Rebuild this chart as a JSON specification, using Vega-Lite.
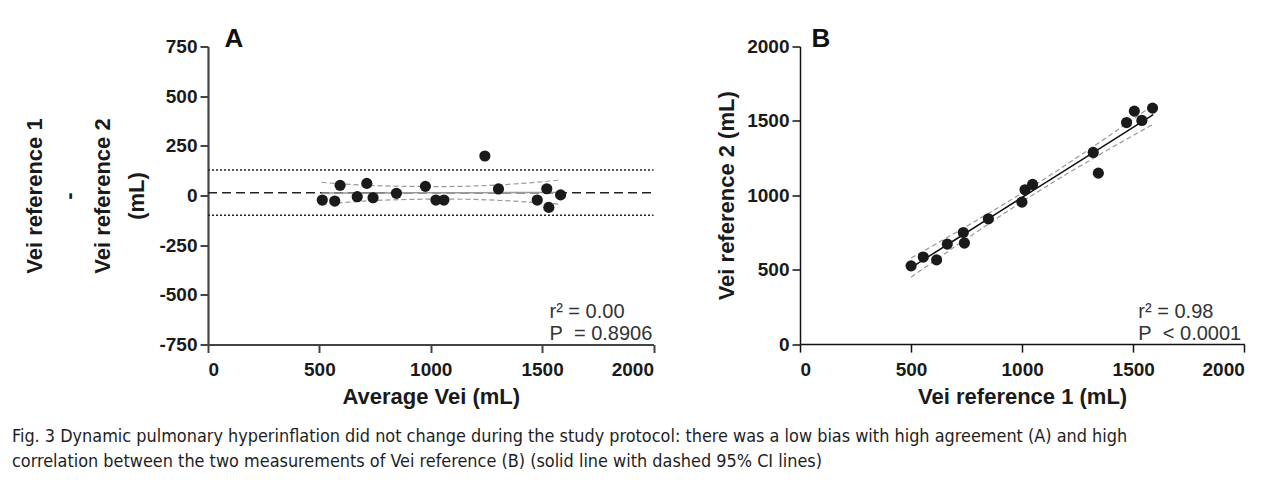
{
  "$schema": "https://vega.github.io/schema/vega-lite/v6.json",
  "background": "white",
  "padding": {"left": 11, "top": 25.5, "right": 5, "bottom": 5},
  "bounds": "flush",
  "spacing": 146,
  "datasets": {
    "one": [{}],
    "ba": [
      {"avg": 513, "diff": -23}, {"avg": 569, "diff": -28}, {"avg": 593, "diff": 51},
      {"avg": 670, "diff": -6}, {"avg": 713, "diff": 61}, {"avg": 741, "diff": -11},
      {"avg": 846, "diff": 11}, {"avg": 976, "diff": 46}, {"avg": 1023, "diff": -23},
      {"avg": 1059, "diff": -23}, {"avg": 1243, "diff": 199}, {"avg": 1304, "diff": 33},
      {"avg": 1478, "diff": -23}, {"avg": 1521, "diff": 34}, {"avg": 1530, "diff": -60},
      {"avg": 1583, "diff": 3}
    ],
    "baFit": [
      {"x": 510, "fit": 13, "lo": -46, "hi": 66},
      {"x": 700, "fit": 13, "lo": -28, "hi": 52},
      {"x": 900, "fit": 14, "lo": -20, "hi": 46},
      {"x": 1050, "fit": 14, "lo": -18, "hi": 45},
      {"x": 1200, "fit": 14, "lo": -20, "hi": 48},
      {"x": 1400, "fit": 15, "lo": -30, "hi": 60},
      {"x": 1585, "fit": 15, "lo": -44, "hi": 78}
    ],
    "corr": [
      {"v1": 500, "v2": 526}, {"v1": 555, "v2": 585}, {"v1": 615, "v2": 566},
      {"v1": 663, "v2": 672}, {"v1": 735, "v2": 750}, {"v1": 740, "v2": 679},
      {"v1": 848, "v2": 842}, {"v1": 999, "v2": 954}, {"v1": 1013, "v2": 1037},
      {"v1": 1047, "v2": 1073}, {"v1": 1320, "v2": 1288}, {"v1": 1343, "v2": 1149},
      {"v1": 1470, "v2": 1489}, {"v1": 1505, "v2": 1566}, {"v1": 1539, "v2": 1503},
      {"v1": 1587, "v2": 1586}
    ],
    "corrFit": [
      {"x": 500, "fit": 514, "lo": 450, "hi": 578},
      {"x": 700, "fit": 703, "lo": 658, "hi": 748},
      {"x": 900, "fit": 892, "lo": 860, "hi": 924},
      {"x": 1050, "fit": 1033, "lo": 1005, "hi": 1061},
      {"x": 1200, "fit": 1175, "lo": 1143, "hi": 1207},
      {"x": 1400, "fit": 1363, "lo": 1318, "hi": 1408},
      {"x": 1590, "fit": 1542, "lo": 1478, "hi": 1606}
    ]
  },
  "title": {
    "text": [
      "Fig. 3  Dynamic pulmonary hyperinflation did not change during the study protocol: there was a low bias with high agreement (A) and high",
      "correlation between the two measurements of Vei reference (B) (solid line with dashed 95% CI lines)"
    ],
    "orient": "bottom",
    "anchor": "start",
    "font": "DejaVu Sans Condensed, Liberation Sans Narrow, sans-serif",
    "fontSize": 17.9,
    "fontWeight": "normal",
    "color": "#1e1e1e",
    "lineHeight": 25,
    "offset": 20,
    "dx": -12
  },
  "hconcat": [
    {
      "width": 445.5,
      "height": 298,
      "title": {"text": "A", "anchor": "start", "frame": "group", "fontSize": 26, "fontWeight": "bold", "font": "Liberation Sans", "color": "#111111", "dx": 16.5, "baseline": "alphabetic", "offset": -35},
      "layer": [
        {
          "data": {"name": "one"},
          "mark": {"type": "rule", "strokeDash": [2, 2], "strokeWidth": 1.5, "color": "#222222"},
          "encoding": {
            "x": {"datum": 0, "type": "quantitative"},
            "x2": {"datum": 2000},
            "y": {"datum": 128, "type": "quantitative"}
          }
        },
        {
          "data": {"name": "one"},
          "mark": {"type": "rule", "strokeDash": [2, 2], "strokeWidth": 1.5, "color": "#222222"},
          "encoding": {
            "x": {"datum": 0, "type": "quantitative"},
            "x2": {"datum": 2000},
            "y": {"datum": -100, "type": "quantitative"}
          }
        },
        {
          "data": {"name": "one"},
          "mark": {"type": "rule", "strokeDash": [9, 5], "strokeWidth": 1.5, "color": "#222222"},
          "encoding": {
            "x": {"datum": 0, "type": "quantitative"},
            "x2": {"datum": 2000},
            "y": {"datum": 14, "type": "quantitative"}
          }
        },
        {
          "data": {"name": "baFit"},
          "mark": {"type": "line", "color": "#999999", "strokeWidth": 1.5},
          "encoding": {
            "x": {"field": "x", "type": "quantitative"},
            "y": {"field": "fit", "type": "quantitative"}
          }
        },
        {
          "data": {"name": "baFit"},
          "mark": {"type": "line", "color": "#999999", "strokeWidth": 1.2, "strokeDash": [5, 3], "interpolate": "monotone"},
          "encoding": {
            "x": {"field": "x", "type": "quantitative"},
            "y": {"field": "hi", "type": "quantitative"}
          }
        },
        {
          "data": {"name": "baFit"},
          "mark": {"type": "line", "color": "#999999", "strokeWidth": 1.2, "strokeDash": [5, 3], "interpolate": "monotone"},
          "encoding": {
            "x": {"field": "x", "type": "quantitative"},
            "y": {"field": "lo", "type": "quantitative"}
          }
        },
        {
          "data": {"name": "ba"},
          "mark": {"type": "circle", "size": 125, "opacity": 1, "color": "#1a1a1a"},
          "encoding": {
            "x": {"field": "avg", "type": "quantitative", "scale": {"domain": [0, 2000], "nice": false},
              "axis": {"title": "Average Vei (mL)", "values": [0, 500, 1000, 1500, 2000], "format": "d", "labelPadding": 8, "titlePadding": 7}},
            "y": {"field": "diff", "type": "quantitative", "scale": {"domain": [-750, 750], "nice": false},
              "axis": {"title": ["Vei reference 1", "-", "Vei reference 2", "(mL)"], "values": [-750, -500, -250, 0, 250, 500, 750], "labelExpr": "'' + datum.value", "titleLineHeight": 34, "titlePadding": 10}}
          }
        },
        {
          "data": {"name": "one"},
          "mark": {"type": "text", "align": "left", "baseline": "alphabetic", "font": "Liberation Sans", "fontSize": 20, "lineHeight": 22, "color": "#333333"},
          "encoding": {
            "x": {"datum": 1533, "type": "quantitative"},
            "y": {"datum": -616, "type": "quantitative"},
            "text": {"value": ["r² = 0.00", "P\u00a0 = 0.8906"]}
          }
        }
      ]
    },
    {
      "width": 444.3,
      "height": 297.6,
      "title": {"text": "B", "anchor": "start", "frame": "group", "fontSize": 26, "fontWeight": "bold", "font": "Liberation Sans", "color": "#111111", "dx": 11.5, "baseline": "alphabetic", "offset": -35},
      "layer": [
        {
          "data": {"name": "corrFit"},
          "mark": {"type": "line", "color": "#999999", "strokeWidth": 1.2, "strokeDash": [5, 3]},
          "encoding": {
            "x": {"field": "x", "type": "quantitative", "scale": {"domain": [0, 2000], "nice": false}},
            "y": {"field": "hi", "type": "quantitative", "scale": {"domain": [0, 2000], "nice": false}}
          }
        },
        {
          "data": {"name": "corrFit"},
          "mark": {"type": "line", "color": "#999999", "strokeWidth": 1.2, "strokeDash": [5, 3]},
          "encoding": {
            "x": {"field": "x", "type": "quantitative"},
            "y": {"field": "lo", "type": "quantitative"}
          }
        },
        {
          "data": {"name": "corrFit"},
          "mark": {"type": "line", "color": "#111111", "strokeWidth": 1.5},
          "encoding": {
            "x": {"field": "x", "type": "quantitative"},
            "y": {"field": "fit", "type": "quantitative"}
          }
        },
        {
          "data": {"name": "corr"},
          "mark": {"type": "circle", "size": 125, "opacity": 1, "color": "#1a1a1a"},
          "encoding": {
            "x": {"field": "v1", "type": "quantitative",
              "axis": {"title": "Vei reference 1 (mL)", "values": [0, 500, 1000, 1500, 2000], "format": "d", "labelPadding": 8, "titlePadding": 7, "domainWidth": 1.5, "tickWidth": 1.5, "domainColor": "#111111", "tickColor": "#111111"}},
            "y": {"field": "v2", "type": "quantitative",
              "axis": {"title": "Vei reference 2 (mL)", "values": [0, 500, 1000, 1500, 2000], "format": "d", "titlePadding": 8, "domainWidth": 1.5, "tickWidth": 1.5, "domainColor": "#111111", "tickColor": "#111111"}}
          }
        },
        {
          "data": {"name": "one"},
          "mark": {"type": "text", "align": "left", "baseline": "alphabetic", "font": "Liberation Sans", "fontSize": 20, "lineHeight": 22, "color": "#333333"},
          "encoding": {
            "x": {"datum": 1523, "type": "quantitative"},
            "y": {"datum": 177, "type": "quantitative"},
            "text": {"value": ["r² = 0.98", "P\u00a0 < 0.0001"]}
          }
        }
      ]
    }
  ],
  "config": {
    "view": {"stroke": null},
    "axis": {
      "grid": false,
      "labelFont": "Liberation Sans",
      "labelFontSize": 19,
      "labelFontWeight": "bold",
      "labelColor": "#1a1a1a",
      "labelPadding": 3,
      "titleFont": "Liberation Sans",
      "titleFontSize": 22,
      "titleFontWeight": "bold",
      "titleColor": "#1a1a1a",
      "domainColor": "#444444",
      "tickColor": "#444444",
      "domainWidth": 2.2,
      "tickWidth": 2,
      "tickSize": 8
    }
  }
}
